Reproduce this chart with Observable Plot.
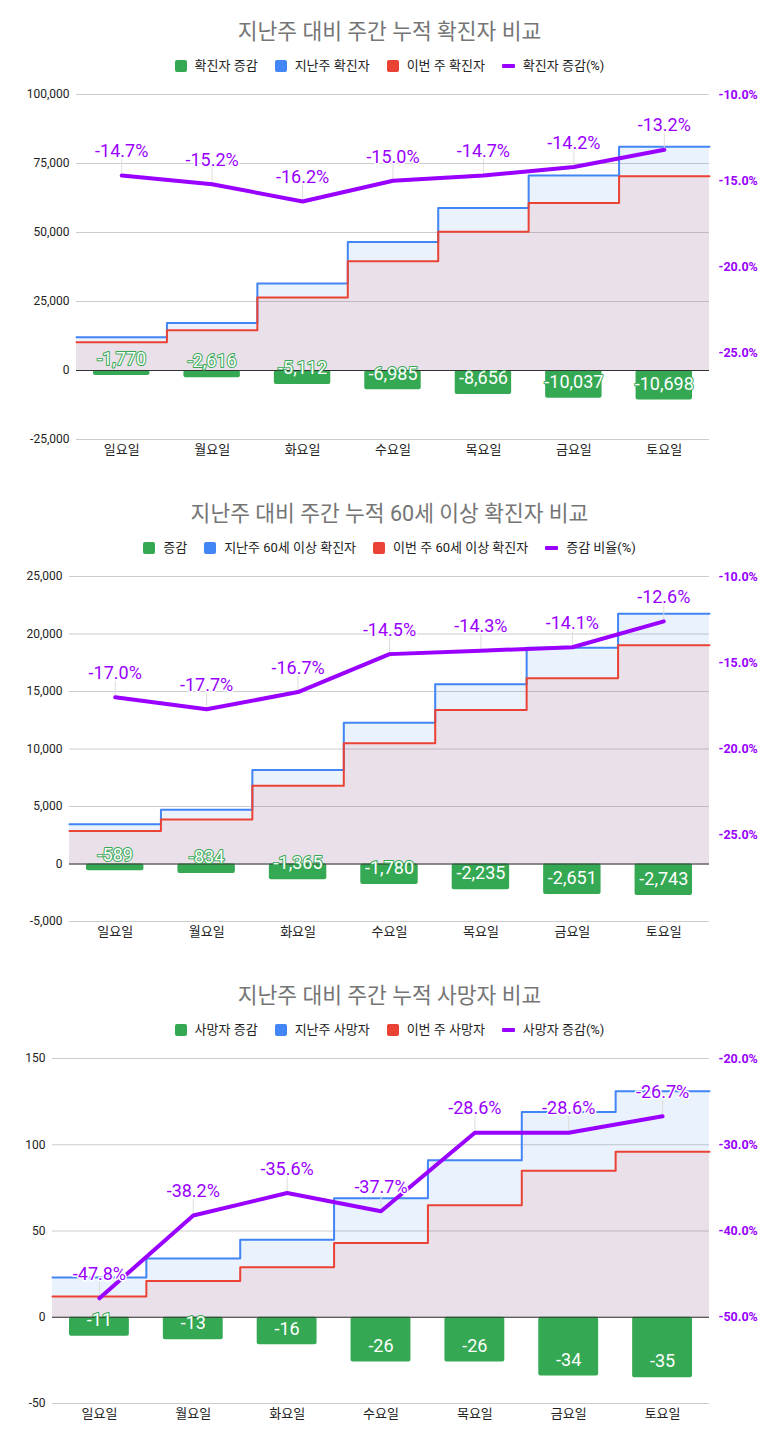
<!DOCTYPE html>
<html><head><meta charset="utf-8">
<script src="https://cdn.jsdelivr.net/npm/d3@7"></script>
<script src="https://cdn.jsdelivr.net/npm/@observablehq/plot@0.6"></script>
<style>
body{margin:0;background:#fff;font-family:Roboto,"Noto Sans CJK KR",sans-serif;}
#root{position:relative;width:779px;height:1446px;}
.block{position:absolute;left:0;width:779px;height:482px;}
.title{position:absolute;left:0;width:779px;top:17px;text-align:center;font-size:21.5px;color:#757575;line-height:30px;}
.legend{position:absolute;left:0;width:779px;top:57px;display:flex;justify-content:center;align-items:center;font-size:13px;color:#222;line-height:17px;}
.item{display:flex;align-items:center;margin:0 8.5px;}
.sw{width:12px;height:12px;border-radius:2px;margin-right:8px;}
.ln{width:13px;height:4px;border-radius:1px;margin-right:8px;}
.plot{position:absolute;left:0;top:74px;}
</style></head><body><div id="root"></div>
<script>
const days = ["일요일","월요일","화요일","수요일","목요일","금요일","토요일"];

// Chart 1: 확진자
const casesTitle = "지난주 대비 주간 누적 확진자 비교";
const casesLegend = ["확진자 증감","지난주 확진자","이번 주 확진자","확진자 증감(%)"];
const casesDiff = [-1770,-2616,-5112,-6985,-8656,-10037,-10698];
const casesPrev = [12041,17211,31556,46567,58884,70683,81045];
const casesCurr = [10271,14595,26444,39582,50228,60646,70347];
const casesPct  = [-14.7,-15.2,-16.2,-15.0,-14.7,-14.2,-13.2];
const casesTicks = [-25000,0,25000,50000,75000,100000];
const casesPctTicks = [-25,-20,-15,-10];

// Chart 2: 60세 이상 확진자
const oldTitle = "지난주 대비 주간 누적 60세 이상 확진자 비교";
const oldLegend = ["증감","지난주 60세 이상 확진자","이번 주 60세 이상 확진자","증감 비율(%)"];
const oldDiff = [-589,-834,-1365,-1780,-2235,-2651,-2743];
const oldPrev = [3465,4712,8174,12276,15629,18801,21770];
const oldCurr = [2876,3878,6809,10496,13394,16150,19027];
const oldPct  = [-17.0,-17.7,-16.7,-14.5,-14.3,-14.1,-12.6];
const oldTicks = [-5000,0,5000,10000,15000,20000,25000];
const oldPctTicks = [-25,-20,-15,-10];

// Chart 3: 사망자
const deathTitle = "지난주 대비 주간 누적 사망자 비교";
const deathLegend = ["사망자 증감","지난주 사망자","이번 주 사망자","사망자 증감(%)"];
const deathDiff = [-11,-13,-16,-26,-26,-34,-35];
const deathPrev = [23,34,45,69,91,119,131];
const deathCurr = [12,21,29,43,65,85,96];
const deathPct  = [-47.8,-38.2,-35.6,-37.7,-28.6,-28.6,-26.7];
const deathTicks = [-50,0,50,100,150];
const deathPctTicks = [-50,-40,-30,-20];

const GREEN="#34a853", BLUE="#4285f4", RED="#ea4335", PURPLE="#9900ff";
const FONT = 'Roboto, "Noto Sans CJK KR", sans-serif';

function chart(cfg, top){
  const {title, legend, diff, prev, curr, pct, ticks, pctTicks, pctDomain, marginLeft} = cfg;
  const yDomain = [ticks[0], ticks[ticks.length-1]];
  const H = 400, MT = 20, MB = 35, MR = 70;
  const span = yDomain[1]-yDomain[0];
  const t = p => yDomain[0] + (p - pctDomain[0])/(pctDomain[1]-pctDomain[0]) * span;
  const tInv = v => pctDomain[0] + (v - yDomain[0])/span * (pctDomain[1]-pctDomain[0]);
  const pxToData = px => px * span / (H - MT - MB);

  const rows = days.map((d,i)=>({day:d, i, diff:diff[i], pct:pct[i]}));
  const steps = arr => arr.map((v,i)=>({x:i, y:v})).concat([{x:arr.length, y:arr[arr.length-1]}]);
  const prevSteps = steps(prev), currSteps = steps(curr);
  const fmt = v => v.toLocaleString("en-US");

  const svg = Plot.plot({
    width: 779, height: H,
    marginTop: MT, marginBottom: MB, marginLeft, marginRight: MR,
    style: {fontFamily: FONT, background: "transparent", overflow: "visible"},
    x: {type: "linear", domain: [0, days.length], axis: null},
    y: {domain: yDomain, axis: null},
    marks: [
      Plot.ruleY(ticks, {stroke: "#cccccc", strokeOpacity: 1}),
      Plot.areaY(prevSteps, {x: "x", y: "y", curve: "step-after", fill: BLUE, fillOpacity: 0.11}),
      Plot.areaY(currSteps, {x: "x", y: "y", curve: "step-after", fill: RED, fillOpacity: 0.1}),
      Plot.lineY(prevSteps, {x: "x", y: "y", curve: "step-after", stroke: BLUE, strokeWidth: 2}),
      Plot.lineY(currSteps, {x: "x", y: "y", curve: "step-after", stroke: RED, strokeWidth: 2}),
      Plot.rect(rows, {x1: "i", x2: d => d.i + 1, y1: 0, y2: "diff", fill: GREEN, insetLeft: 17, insetRight: 17, rx: 2}),
      Plot.ruleY([0], {stroke: "#333333"}),
      Plot.text(rows, {x: d => d.i + 0.5, y: "diff", text: d => fmt(d.diff), dy: -16, fontSize: 18,
        fill: "white", stroke: GREEN, strokeWidth: 2, paintOrder: "stroke"}),
      Plot.ruleX(rows, {x: d => d.i + 0.5, y1: d => t(d.pct), y2: d => t(d.pct) + pxToData(16), stroke: "#dddddd"}),
      Plot.line(rows, {x: d => d.i + 0.5, y: d => t(d.pct), stroke: PURPLE, strokeWidth: 4}),
      Plot.text(rows, {x: d => d.i + 0.5, y: d => t(d.pct), text: d => d.pct.toFixed(1) + "%", dy: -24, fontSize: 18,
        fill: PURPLE, stroke: "white", strokeWidth: 3, paintOrder: "stroke"}),
      Plot.axisY(ticks, {anchor: "left", tickSize: 0, tickPadding: 7, tickFormat: fmt, fontSize: 12, fill: "#222"}),
      Plot.axisY(pctTicks.map(t), {anchor: "right", tickSize: 0, tickPadding: 9,
        tickFormat: v => tInv(v).toFixed(1) + "%", fontSize: 12.5, fontWeight: "bold", fill: PURPLE}),
      Plot.axisX(rows.map(d => d.i + 0.5), {anchor: "bottom", tickSize: 0, tickPadding: 5,
        tickFormat: v => days[Math.floor(v)], fontSize: 13, fill: "#222"})
    ]
  });

  const block = document.createElement("div");
  block.className = "block";
  block.style.top = top + "px";
  const tt = document.createElement("div");
  tt.className = "title"; tt.textContent = title;
  block.appendChild(tt);
  const lg = document.createElement("div");
  lg.className = "legend";
  const colors = [GREEN, BLUE, RED, PURPLE];
  legend.forEach((name, k) => {
    const it = document.createElement("div"); it.className = "item";
    const sw = document.createElement("div");
    sw.className = k === 3 ? "ln" : "sw";
    sw.style.background = colors[k];
    it.appendChild(sw);
    const tx = document.createElement("span"); tx.textContent = name;
    it.appendChild(tx);
    lg.appendChild(it);
  });
  block.appendChild(lg);
  svg.classList.add("plot");
  block.appendChild(svg);
  document.getElementById("root").appendChild(block);
}

chart({title: casesTitle, legend: casesLegend, diff: casesDiff, prev: casesPrev, curr: casesCurr, pct: casesPct,
  ticks: casesTicks, pctTicks: casesPctTicks, pctDomain: [-30, -10], marginLeft: 76}, 0);
chart({title: oldTitle, legend: oldLegend, diff: oldDiff, prev: oldPrev, curr: oldCurr, pct: oldPct,
  ticks: oldTicks, pctTicks: oldPctTicks, pctDomain: [-30, -10], marginLeft: 69}, 482);
chart({title: deathTitle, legend: deathLegend, diff: deathDiff, prev: deathPrev, curr: deathCurr, pct: deathPct,
  ticks: deathTicks, pctTicks: deathPctTicks, pctDomain: [-60, -20], marginLeft: 52}, 964);
</script>
</body></html>
